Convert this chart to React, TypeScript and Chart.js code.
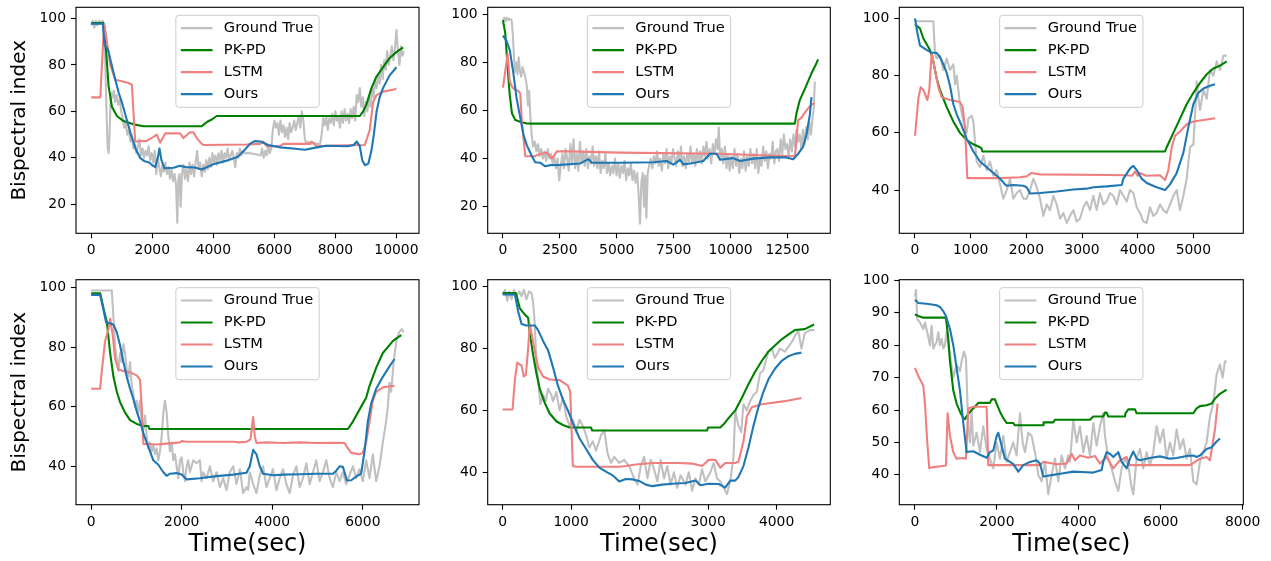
import React, { useEffect, useRef } from "react";
import { Chart, registerables } from "chart.js";
Chart.register(...registerables);

type Pt = [number, number];

const seriesNames = ["Ground True", "PK-PD", "LSTM", "Ours"];
const seriesColors = ["#c0c0c0", "#008000", "#f08080", "#1f77b4"];

// ---------- Panel 1 ----------
const p1Gt: Pt[] = [[0,97],[50,99],[100,96],[150,99],[200,97],[260,99],[320,98],[380,99],[420,95],[450,85],[480,70],[510,55],[540,44],[570,42],[600,50],[630,63],[660,68],[700,66],[740,69],[780,64],[830,67],[880,63],[930,65],[980,60],[1030,57],[1080,53],[1130,55],[1180,50],[1230,52],[1280,47],[1330,50],[1380,44],[1430,46],[1480,42],[1530,45],[1580,48],[1630,41],[1680,44],[1730,40],[1780,43],[1830,41],[1880,45],[1930,39],[1980,42],[2030,38],[2080,43],[2130,33],[2180,40],[2230,36],[2280,32],[2330,37],[2380,34],[2430,38],[2480,33],[2530,36],[2580,31],[2630,35],[2680,30],[2730,33],[2780,28],[2820,12],[2850,30],[2890,33],[2930,19],[2970,33],[3020,37],[3070,31],[3120,35],[3170,30],[3220,38],[3270,33],[3320,37],[3370,32],[3420,38],[3470,43],[3520,35],[3570,38],[3620,32],[3670,37],[3720,34],[3770,39],[3820,35],[3870,40],[3920,36],[3970,42],[4020,38],[4070,41],[4120,37],[4170,42],[4220,39],[4270,43],[4320,38],[4370,42],[4420,40],[4470,44],[4520,39],[4570,41],[4620,43],[4670,40],[4720,36],[4770,42],[4820,40],[4870,44],[4920,41],[4970,43],[5020,42],[5200,42],[5400,41.5],[5550,41],[5600,44],[5650,40],[5700,43],[5750,41],[5800,45],[5850,42],[5900,44],[5950,52],[6000,56],[6050,53],[6100,55],[6150,50],[6200,56],[6250,51],[6300,54],[6350,49],[6400,53],[6450,48],[6500,55],[6550,51],[6600,53],[6650,56],[6700,52],[6750,55],[6800,58],[6850,53],[6900,60],[6950,56],[7000,48],[7050,46],[7100,47],[7200,46],[7300,46.5],[7400,46],[7500,46],[7550,50],[7600,57],[7650,54],[7700,58],[7750,52],[7800,57],[7850,55],[7900,59],[7950,54],[8000,60],[8050,56],[8100,58],[8150,53],[8200,60],[8250,55],[8300,61],[8350,56],[8400,59],[8450,55],[8500,61],[8550,57],[8600,62],[8650,56],[8700,67],[8750,64],[8800,70],[8850,62],[8900,66],[8950,58],[9000,64],[9050,60],[9100,66],[9150,62],[9200,70],[9250,66],[9300,73],[9350,70],[9400,76],[9450,72],[9500,80],[9550,74],[9600,82],[9650,78],[9700,86],[9750,80],[9800,84],[9850,88],[9900,82],[9950,87],[10000,95],[10050,86],[10100,80],[10150,88],[10200,84],[10240,86]];
const p1Pk: Pt[] = [[0,98],[400,98],[430,92],[490,85.5],[567,71],[676,62],[840,58],[1058,55.8],[1385,54.4],[1712,53.6],[3620,53.6],[3700,54.5],[3800,55.5],[3950,56.5],[4111,58],[8800,58],[8909,60],[9018,63],[9182,70],[9346,75],[9564,79],[9782,83],[10000,85.5],[10218,87.5]];
const p1Lstm: Pt[] = [[0,66],[300,66],[330,75],[400,92],[436,97],[513,90],[622,80],[785,73.6],[1000,73],[1200,72.3],[1330,71.5],[1440,47],[1821,47.3],[2039,49],[2148,50],[2257,46.5],[2421,50.5],[2912,50.5],[3021,48.5],[3239,51],[3348,51],[3457,48.5],[3620,46],[3675,45.5],[5092,45.7],[5529,46],[5638,47],[5747,45],[6183,45],[6292,46],[7165,46],[7219,47],[7383,45],[7928,45.3],[8964,45.5],[9127,52],[9236,64],[9346,67],[9564,68.5],[10000,69.6]];
const p1Ours: Pt[] = [[0,97.7],[380,97.7],[430,89],[500,87.5],[560,86],[650,81],[780,74],[900,68],[1000,64],[1150,57],[1300,50],[1450,44],[1600,40],[1750,38.5],[1900,38],[2000,36.8],[2100,36],[2180,40],[2235,44],[2300,39],[2400,35.5],[2700,35.7],[2900,36.6],[3100,36],[3400,35.8],[3620,35],[4000,37.2],[4500,39],[4800,40.5],[5000,43],[5200,46],[5350,47.2],[5550,47],[5800,45.5],[6200,44.5],[6600,44],[7000,43.5],[7400,44.5],[7700,45.2],[8400,45],[8600,45.5],[8700,47],[8800,45],[8880,39],[8970,36.8],[9080,37.5],[9180,43],[9260,50],[9350,60],[9450,66],[9560,70],[9780,75.5],[10000,79]];
const p1XTicks = [0, 2000, 4000, 6000, 8000, 10000];
const p1YTicks = [20, 40, 60, 80, 100];

// ---------- Panel 2 ----------
const p2Gt: Pt[] = [[0,97],[60,98.5],[120,97],[180,98.5],[240,97.5],[300,98],[380,97.5],[430,92],[470,85],[520,76],[580,80],[640,75],[690,82],[740,77],[800,74],[860,78],[920,76],[980,74],[1050,70],[1100,62],[1150,68],[1200,58],[1260,50],[1330,45],[1400,47],[1470,43],[1540,46],[1610,41],[1680,44],[1750,40],[1820,43],[1900,39],[1970,44],[2040,40],[2110,42],[2180,38],[2250,41],[2330,36],[2400,40],[2470,31],[2540,37],[2610,42],[2680,36],[2750,44],[2820,40],[2890,35],[2960,46],[3030,38],[3100,48],[3170,36],[3240,42],[3310,35],[3380,47],[3450,38],[3520,43],[3590,37],[3660,44],[3730,36],[3800,41],[3870,38],[3940,45],[4010,37],[4080,41],[4150,36],[4220,43],[4290,34],[4360,39],[4430,36],[4500,42],[4570,34],[4640,38],[4710,33],[4780,37],[4850,34],[4920,40],[4990,33],[5060,38],[5130,32],[5200,37],[5270,34],[5340,39],[5410,31],[5480,36],[5550,33],[5620,38],[5690,31],[5760,35],[5830,30],[5900,34],[5960,25],[6020,13],[6080,30],[6140,34],[6200,20],[6250,33],[6300,15.5],[6360,34],[6420,37],[6490,40],[6560,36],[6630,41],[6700,38],[6770,43],[6840,37],[6910,40],[6980,35],[7050,42],[7120,38],[7190,44],[7260,36],[7330,41],[7400,38],[7470,44],[7540,40],[7610,37],[7680,43],[7750,39],[7820,45],[7890,37],[7960,41],[8030,36],[8100,42],[8170,39],[8240,45],[8310,38],[8380,42],[8450,37],[8520,44],[8590,39],[8660,43],[8730,38],[8800,45],[8870,41],[8940,47],[9010,40],[9080,44],[9150,38],[9220,46],[9290,42],[9360,48],[9430,44],[9480,53],[9540,40],[9610,44],[9680,38],[9750,45],[9820,36],[9890,42],[9960,35],[10030,41],[10100,36],[10170,44],[10240,37],[10310,42],[10380,34],[10450,40],[10520,36],[10590,43],[10660,35],[10730,41],[10800,37],[10870,44],[10940,38],[11010,42],[11080,36],[11150,44],[11220,34],[11290,40],[11360,37],[11430,45],[11500,39],[11570,43],[11640,36],[11710,42],[11780,40],[11850,47],[11920,38],[11990,43],[12060,44],[12130,39],[12200,48],[12270,42],[12340,50],[12410,44],[12480,46],[12550,41],[12620,48],[12690,43],[12760,50],[12830,45],[12900,52],[12970,47],[13040,50],[13110,44],[13180,52],[13250,46],[13320,53],[13390,48],[13460,55],[13530,50],[13600,57],[13650,60],[13700,72]];
const p2Pk: Pt[] = [[0,97.5],[102,92],[205,78],[292,67],[395,58.8],[541,56],[760,55.3],[1053,54.6],[1300,54.5],[12822,54.5],[12895,58.8],[13041,64.3],[13334,70.5],[13553,75.4],[13772,79.6],[13845,81.2]];
const p2Lstm: Pt[] = [[0,69.5],[205,83.5],[300,72],[395,70],[468,69],[687,68],[760,67],[833,55],[980,41],[1418,41],[1491,41.5],[1930,42.5],[2149,40],[2368,43],[2953,43],[5146,42.5],[9532,42],[10994,41.5],[12749,41],[12822,40.5],[12968,56],[13114,57],[13334,60],[13553,62.5],[13699,63]];
const p2Ours: Pt[] = [[0,91],[150,89],[300,85],[450,76],[600,65],[760,57],[900,50],[1050,45.5],[1272,41],[1418,38.5],[1637,38.3],[1857,36.8],[2076,37.3],[2515,37.4],[3392,38],[3757,39.8],[3904,38.3],[5146,38.3],[6608,38.5],[7193,39],[7485,37.5],[7778,39.5],[7924,37.6],[8363,38.2],[8801,39],[9094,42],[9386,42],[9532,39.5],[10117,40.2],[10409,39],[10994,40],[11725,40.5],[12456,40.5],[12749,39.7],[12968,42],[13187,45],[13333,50],[13480,58],[13553,65.5]];
const p2XTicks = [0, 2500, 5000, 7500, 10000, 12500];
const p2YTicks = [20, 40, 60, 80, 100];

// ---------- Panel 3 ----------
const p3Gt: Pt[] = [[0,99],[100,99],[200,99],[329,99],[359,88],[389,86],[449,87],[509,82],[569,86],[629,82],[689,84],[719,77],[749,80],[808,70],[868,64],[928,60],[958,65],[1018,66],[1048,64],[1108,50],[1168,48],[1228,52],[1287,47],[1347,50],[1407,45],[1467,47],[1527,42],[1587,37],[1647,40],[1707,44],[1766,37],[1826,39],[1886,40],[1946,37],[2006,37],[2066,40],[2126,44],[2186,41],[2246,37],[2305,31],[2365,35],[2425,33],[2485,38],[2545,35],[2605,30],[2665,32],[2725,28.5],[2785,31],[2844,33],[2904,29],[2964,30],[3024,34],[3084,36],[3144,33],[3204,38],[3263,33],[3323,39],[3383,35],[3443,36],[3503,39],[3563,38],[3623,35],[3683,40],[3743,38],[3802,36],[3862,40],[3922,39],[3982,34],[4042,32],[4102,29],[4162,28.5],[4222,34],[4281,31],[4341,32],[4401,35],[4461,33],[4521,32],[4581,35],[4641,38],[4701,40],[4760,33],[4820,38],[4880,44],[4940,55],[5000,56],[5030,66],[5060,78],[5090,72],[5120,68],[5180,75],[5240,72],[5299,82],[5359,80],[5419,85],[5479,82],[5539,87],[5599,87]];
const p3Pk: Pt[] = [[0,98],[90,96.5],[150,93],[210,91],[269,89],[329,85],[389,79],[449,75],[569,69],[689,64],[808,60],[928,57.5],[1048,56],[1168,55],[1198,54.5],[1210,53.5],[4491,53.5],[4521,55],[4641,60],[4760,65],[4880,70],[5000,74],[5120,77.5],[5240,80.5],[5359,82.5],[5479,83.5],[5599,85]];
const p3Lstm: Pt[] = [[0,59],[60,72],[102,76],[150,75],[222,71.5],[257,75],[299,88],[359,82],[419,76],[479,72.5],[629,71.5],[808,70.8],[856,69],[898,62],[940,44.2],[1527,44.2],[1886,44.5],[2006,44.8],[2096,46],[2246,45.5],[3443,45.3],[3802,45.2],[3900,45],[3950,46.5],[4000,45],[4042,46],[4150,45],[4401,45.2],[4491,43.5],[4551,47],[4611,55],[4671,59],[4760,60.5],[4880,63],[5000,64],[5359,65],[5389,65.2]];
const p3Ours: Pt[] = [[0,100],[42,95],[90,90.5],[210,89],[299,88],[389,88],[449,86.5],[509,84],[569,81],[629,76.5],[689,70],[749,66.5],[838,62.5],[928,58],[1048,53.5],[1168,50],[1287,48],[1407,46],[1527,44],[1617,42],[1647,41.5],[1766,41.8],[1946,41.5],[2006,41],[2066,38.8],[2246,39],[2545,39.5],[2844,40.2],[3084,40.5],[3204,41],[3443,41.3],[3713,41.8],[3743,44],[3862,47.5],[3922,48.5],[3982,47],[4072,44],[4162,42.5],[4341,41],[4491,40],[4581,42],[4701,46],[4820,53],[4910,62],[5000,70],[5090,74],[5180,75.5],[5299,76.5],[5389,77]];
const p3XTicks = [0, 1000, 2000, 3000, 4000, 5000];
const p3YTicks = [40, 60, 80, 100];

// ---------- Panel 4 ----------
const p4Gt: Pt[] = [[0,99],[150,99],[300,99],[455,99],[492,90],[529,80],[566,76],[602,72],[639,78],[676,75],[712,81],[749,78],[786,72],[823,70],[859,75],[896,67],[933,64],[969,60],[1006,62],[1043,58],[1080,62],[1116,55],[1153,52],[1190,57],[1226,50],[1263,46],[1300,48],[1337,45],[1373,47],[1410,44],[1447,46],[1483,42],[1520,45],[1557,50],[1594,58],[1630,62],[1667,58],[1704,50],[1740,45],[1777,48],[1814,42],[1851,44],[1887,40],[1924,36],[1961,42],[1998,43],[2034,38],[2071,35],[2108,40],[2144,42],[2181,38],[2255,42],[2328,41],[2401,42],[2438,35],[2475,38],[2548,36],[2622,40],[2695,35],[2769,38],[2842,33],[2916,36],[2989,32],[3062,38],[3136,40],[3209,34],[3283,39],[3356,31],[3430,33],[3466,32],[3503,38],[3577,34],[3650,31],[3723,37],[3797,40],[3870,33],[3944,36],[4017,39],[4091,32],[4164,36],[4238,39],[4311,34],[4384,31],[4458,37],[4531,40],[4605,33],[4678,36],[4752,41],[4825,34],[4898,38],[4972,42],[5045,35],[5119,38],[5192,42],[5266,36],[5339,33],[5413,38],[5486,35],[5559,38],[5633,34],[5706,37],[5780,40],[5853,36],[5926,39],[6000,35],[6073,42],[6147,36],[6220,44],[6294,35],[6367,40],[6441,48],[6514,55],[6551,60],[6588,68],[6625,65],[6680,75],[6740,82],[6800,85],[6860,86],[6900,85]];
const p4Pk: Pt[] = [[0,98],[200,98],[272,93],[345,88.5],[419,78],[492,70],[566,65],[639,61.5],[749,58],[859,55.5],[1006,54.2],[1153,53.5],[1263,53.5],[1285,52.5],[5670,52.5],[5780,55],[5926,59],[6073,63],[6147,67],[6294,73],[6441,78],[6551,80],[6661,82],[6750,83],[6850,84]];
const p4Lstm: Pt[] = [[0,66],[198,66],[235,72],[308,82],[382,86],[419,89.5],[477,84],[529,76],[602,72.5],[712,72],[859,71.5],[1006,70.5],[1080,69],[1116,60],[1153,47.5],[1447,47.3],[1667,47.6],[1961,48],[1998,48.5],[2108,48.2],[3136,48.2],[3283,48],[3430,48.2],[3518,49],[3577,56.5],[3613,50],[3650,47.8],[3870,48],[4238,47.8],[4605,48],[4972,47.8],[5339,47.9],[5596,47.8],[5670,46],[5743,44.5],[5926,44],[6000,44.5],[6073,48],[6147,55],[6220,62],[6294,65],[6441,66.5],[6700,67]];
const p4Ours: Pt[] = [[0,97.5],[198,97.5],[272,92.5],[330,88.2],[419,88],[492,87.5],[566,85],[639,80.5],[712,75],[786,70],[859,66],[933,62.5],[1006,58.5],[1080,55],[1153,51],[1226,48],[1300,45],[1373,42],[1483,40.5],[1594,38],[1667,36.8],[1740,37.5],[1887,37.7],[1998,37.2],[2108,35.6],[2401,36],[2769,36.7],[3136,37.2],[3430,37.8],[3503,40],[3577,45.5],[3650,44],[3723,40],[3797,37.5],[4017,37],[4238,37.2],[4605,37.3],[4972,37.5],[5339,37.5],[5413,38.5],[5486,40],[5559,39.8],[5596,38],[5648,35.2],[5743,35.3],[5853,36.5],[5963,37.5],[6037,45],[6110,55],[6184,61],[6294,66],[6441,70],[6588,73.5],[6700,76]];
const p4XTicks = [0, 2000, 4000, 6000];
const p4YTicks = [40, 60, 80, 100];

// ---------- Panel 5 ----------
const p5Gt: Pt[] = [[0,97.5],[34,99],[68,95.5],[97,98.5],[131,96],[164,99],[203,97],[242,98.5],[276,97],[310,99],[348,96],[387,98.5],[421,98],[445,95],[469,88],[493,75],[518,70],[551,62],[590,65],[629,63],[663,67],[711,65],[735,63],[784,66],[832,60],[880,64],[929,58],[977,55],[1025,57],[1074,53],[1122,57],[1171,55],[1219,52],[1267,48],[1316,50],[1364,47],[1437,52],[1485,53.5],[1533,46],[1582,43],[1630,45],[1703,43],[1775,44],[1848,42],[1920,38],[1969,36],[2017,42],[2065,45],[2114,38],[2162,44],[2211,41],[2259,37],[2307,44],[2356,38],[2404,42],[2452,36],[2501,40],[2549,35],[2597,39],[2670,36],[2718,40],[2767,34],[2815,38],[2863,36],[2912,41],[2960,37],[3033,40],[3081,43],[3130,38],[3178,37],[3226,35],[3275,33],[3323,37],[3371,45],[3396,60],[3444,55],[3483,53],[3516,62],[3565,60],[3613,63],[3662,65],[3710,66],[3758,72],[3807,73],[3879,79],[3928,80],[3976,77],[4049,80],[4121,79],[4218,82],[4315,86],[4363,80],[4411,85],[4484,86],[4556,86]];
const p5Pk: Pt[] = [[0,98],[193,98],[252,93],[324,91],[372,90],[397,85],[445,78],[493,72],[542,67],[614,62.5],[687,59],[784,56.5],[880,55.3],[977,54.5],[1291,54.5],[1306,53.5],[2984,53.5],[3000,54.5],[3178,54.5],[3226,55.5],[3299,57.5],[3396,60],[3492,64],[3589,68.5],[3686,72.5],[3783,76],[3879,79],[3976,81],[4073,83],[4170,84.5],[4266,86],[4411,86.3],[4547,87.8]];
const p5Lstm: Pt[] = [[0,60.3],[145,60.3],[179,70],[213,75.5],[276,74.5],[310,71],[339,71.5],[372,80],[397,88],[445,82],[518,74],[590,71],[687,70],[832,69.8],[953,68],[987,66],[1025,42],[1074,41.8],[1703,41.8],[1799,42],[1945,42.5],[2186,43],[2573,43],[2767,42.8],[2912,42],[3009,44],[3105,44],[3178,41.5],[3250,43],[3396,43],[3444,43.5],[3516,50],[3565,58],[3637,61],[3783,62],[4121,63],[4363,64]];
const p5Ours: Pt[] = [[0,97.5],[179,97.5],[227,92],[276,88],[348,87.5],[469,87.5],[518,86],[590,82.5],[663,79.5],[735,74],[808,68],[880,63.5],[953,60],[1025,56],[1122,51],[1219,47.5],[1316,44],[1412,41.5],[1509,40.2],[1606,39],[1703,37],[1799,37.8],[1896,37.7],[1993,37.2],[2090,36],[2186,35.5],[2331,36],[2477,36.3],[2670,36.5],[2815,37.3],[2888,35.8],[3009,36.3],[3154,36.2],[3250,35],[3323,37.3],[3396,37.3],[3444,38.5],[3516,42],[3589,48],[3662,55],[3734,61],[3807,66],[3879,70],[3976,73.5],[4073,76],[4170,77.5],[4266,78.3],[4363,78.7]];
const p5XTicks = [0, 1000, 2000, 3000, 4000];
const p5YTicks = [40, 60, 80, 100];

// ---------- Panel 6 ----------
const p6Gt: Pt[] = [[0,95],[24,97],[57,88],[122,87],[203,85],[244,87],[301,84],[366,80],[407,86],[448,79],[529,81],[570,84],[610,80],[651,82],[692,79],[732,80],[773,84],[814,80],[855,77],[936,70],[1017,74],[1099,72],[1139,75],[1196,78],[1245,76],[1302,55],[1343,50],[1383,60],[1424,49],[1505,53],[1587,47],[1668,55],[1750,48],[1831,45],[1912,42],[1994,50],[2075,45],[2157,52],[2238,44],[2319,47],[2401,50],[2482,46],[2563,59],[2629,50],[2686,47],[2767,53],[2848,52],[2930,47],[3011,40],[3092,38],[3174,44],[3255,34],[3337,40],[3418,45],[3499,38],[3581,46],[3662,42],[3743,46],[3784,44],[3866,57],[3947,50],[4028,55],[4110,47],[4191,52],[4272,46],[4354,56],[4435,49],[4517,55],[4598,59],[4639,52],[4720,45],[4801,42],[4883,38],[4964,35],[5046,42],[5127,45],[5208,43],[5290,36],[5330,34],[5412,45],[5493,48],[5574,42],[5656,47],[5737,43],[5819,47],[5900,55],[5981,50],[6063,54],[6144,45],[6225,50],[6307,46],[6388,54],[6470,48],[6551,51],[6632,45],[6714,48],[6795,38],[6877,37],[6958,44],[7039,47],[7121,50],[7202,58],[7283,62],[7365,71],[7446,74],[7511,70],[7568,75],[7609,75]];
const p6Pk: Pt[] = [[0,89.5],[81,89],[203,88.5],[757,88.5],[814,82],[855,75],[936,66],[1017,62],[1099,59.5],[1180,57.5],[1221,57.2],[1302,58.8],[1383,60],[1465,61],[1546,62.2],[1831,62.2],[1872,63.3],[1953,63.3],[1994,62],[2075,59.5],[2157,57.5],[2238,56],[2401,56],[2441,55.3],[3133,55.3],[3140,56.2],[3377,56.2],[3418,57],[4272,57],[4354,58],[4598,58],[4639,59.2],[4679,59.2],[4720,58],[5127,58],[5140,59],[5208,60.2],[5371,60.2],[5412,59],[6795,59],[6877,60.5],[6958,61.2],[7121,61.5],[7243,62],[7324,63.5],[7446,65],[7609,66.3]];
const p6Lstm: Pt[] = [[0,73],[81,70.5],[163,68.5],[203,67.5],[244,62],[301,50],[350,42],[400,42.3],[732,42.8],[757,43],[798,59],[855,52],[936,47],[1017,45],[1180,45.2],[1245,45],[1302,60.5],[1424,61],[1750,61],[1790,43],[3052,43],[3133,44],[3459,43.3],[3703,43.5],[3825,46.5],[3906,44.5],[4028,46],[4232,45.3],[4395,45.8],[4517,43.5],[4679,45.5],[4842,42],[5005,44.5],[5168,45.5],[5249,43],[6714,43],[6958,45],[7121,45.5],[7202,44.5],[7324,54],[7389,62]];
const p6Ours: Pt[] = [[0,94],[81,93],[285,92.8],[529,92.3],[610,91.8],[692,90.5],[757,89],[855,85],[936,80],[1017,73],[1099,66],[1180,56],[1261,47],[1343,47.2],[1424,47.3],[1587,46.2],[1750,45.3],[1831,47],[1912,47.5],[1994,52],[2035,53],[2116,49],[2197,45],[2319,44],[2401,43.3],[2523,41],[2645,43],[2808,44],[2970,44.5],[3052,43.5],[3133,39.5],[3377,40],[3621,40.5],[3866,41],[4191,40.8],[4354,40.7],[4557,41.5],[4598,44],[4679,47],[4761,46.5],[4842,45.5],[4964,47],[5046,44],[5168,42],[5249,45],[5330,47.2],[5412,45],[5493,44.5],[5737,45.2],[5981,45.7],[6225,45],[6388,45.2],[6632,45.8],[6795,46],[6877,45.5],[6958,46],[7121,48],[7243,48.5],[7365,50.3],[7446,51.2]];
const p6XTicks = [0, 2000, 4000, 6000, 8000];
const p6YTicks = [40, 50, 60, 70, 80, 90, 100];

// ---------- layout ----------
const colCanvas = [
  { left: 0, width: 430 },
  { left: 430, width: 420 },
  { left: 850, width: 421 },
];
const rowCanvas = [
  { top: -20, height: 280 },
  { top: 260, height: 301 },
];
const colPlot = [[76, 419], [487.7, 830.3], [899.3, 1243.3]];
const rowPlot = [[7.3, 233.3], [279.7, 504.7]];

interface PanelDef {
  series: Pt[][];
  xTicks: number[];
  yTicks: number[];
  xMin: number; xMax: number; yMin: number; yMax: number;
  col: number; row: number;
}

const panels: PanelDef[] = [
  { series: [p1Gt, p1Pk, p1Lstm, p1Ours], xTicks: p1XTicks, yTicks: p1YTicks, xMin: -500, xMax: 10740, yMin: 7.5, yMax: 104.8, col: 0, row: 0 },
  { series: [p2Gt, p2Pk, p2Lstm, p2Ours], xTicks: p2XTicks, yTicks: p2YTicks, xMin: -670, xMax: 14380, yMin: 9, yMax: 102.8, col: 1, row: 0 },
  { series: [p3Gt, p3Pk, p3Lstm, p3Ours], xTicks: p3XTicks, yTicks: p3YTicks, xMin: -282, xMax: 5897, yMin: 24.9, yMax: 103.9, col: 2, row: 0 },
  { series: [p4Gt, p4Pk, p4Lstm, p4Ours], xTicks: p4XTicks, yTicks: p4YTicks, xMin: -335, xMax: 7240, yMin: 27.1, yMax: 102.6, col: 0, row: 1 },
  { series: [p5Gt, p5Pk, p5Lstm, p5Ours], xTicks: p5XTicks, yTicks: p5YTicks, xMin: -218, xMax: 4784, yMin: 29.5, yMax: 102.3, col: 1, row: 1 },
  { series: [p6Gt, p6Pk, p6Lstm, p6Ours], xTicks: p6XTicks, yTicks: p6YTicks, xMin: -382, xMax: 8016, yMin: 30.8, yMax: 100.2, col: 2, row: 1 },
];

const FONT = "DejaVu Sans";
const LW = 2.1;

const frameLegendPlugin = {
  id: "frameLegend",
  afterDatasetsDraw(chart: any) {
    const { ctx, chartArea: a } = chart;
    ctx.save();
    ctx.strokeStyle = "#000";
    ctx.lineWidth = 1.1;
    ctx.strokeRect(a.left, a.top, a.right - a.left, a.bottom - a.top);

    ctx.font = `14.6px "${FONT}"`;
    let tw = 0;
    for (const n of seriesNames) tw = Math.max(tw, ctx.measureText(n).width);
    const w = 48 + tw + 6;
    const h = 92;
    const x0 = (a.left + a.right) / 2 - w / 2;
    const y0 = a.top + 8;
    const r = 3;
    ctx.beginPath();
    ctx.moveTo(x0 + r, y0);
    ctx.arcTo(x0 + w, y0, x0 + w, y0 + h, r);
    ctx.arcTo(x0 + w, y0 + h, x0, y0 + h, r);
    ctx.arcTo(x0, y0 + h, x0, y0, r);
    ctx.arcTo(x0, y0, x0 + w, y0, r);
    ctx.closePath();
    ctx.fillStyle = "rgba(255,255,255,0.8)";
    ctx.fill();
    ctx.strokeStyle = "#cccccc";
    ctx.lineWidth = 1;
    ctx.stroke();

    seriesNames.forEach((n, i) => {
      const y = y0 + 12.8 + i * 22;
      ctx.beginPath();
      ctx.moveTo(x0 + 5, y);
      ctx.lineTo(x0 + 36.7, y);
      ctx.strokeStyle = seriesColors[i];
      ctx.lineWidth = LW;
      ctx.stroke();
      ctx.fillStyle = "#000";
      ctx.textBaseline = "middle";
      ctx.textAlign = "left";
      ctx.fillText(n, x0 + 48, y);
    });
    ctx.restore();
  },
};

function PanelChart({ p }: { p: PanelDef }) {
  const ref = useRef<HTMLCanvasElement | null>(null);
  const cc = colCanvas[p.col];
  const rc = rowCanvas[p.row];
  const [pl, pr] = colPlot[p.col];
  const [ptop, pb] = rowPlot[p.row];

  useEffect(() => {
    if (!ref.current) return;
    const tickFont = { family: FONT, size: 13.9 };
    const chart = new Chart(ref.current, {
      type: "line",
      data: {
        datasets: p.series.map((s, i) => ({
          label: seriesNames[i],
          data: s.map(([x, y]) => ({ x, y })),
          borderColor: seriesColors[i],
          backgroundColor: seriesColors[i],
          borderWidth: LW,
          pointRadius: 0,
          tension: 0,
          fill: false,
          order: 4 - i,
          borderJoinStyle: "round" as const,
        })),
      },
      options: {
        responsive: false,
        animation: false,
        devicePixelRatio: 1,
        events: [],
        layout: {
          padding: {
            left: 0,
            top: ptop - rc.top,
            right: cc.left + cc.width - pr,
            bottom: 0,
          },
        },
        plugins: {
          legend: { display: false },
          tooltip: { enabled: false },
        },
        scales: {
          x: {
            type: "linear",
            min: p.xMin,
            max: p.xMax,
            bounds: "data",
            afterBuildTicks: (s: any) => {
              s.ticks = p.xTicks.map((v) => ({ value: v }));
            },
            afterFit: (s: any) => {
              s.height = rc.top + rc.height - pb;
            },
            grid: {
              display: true,
              drawOnChartArea: false,
              drawTicks: true,
              tickLength: 5,
              tickColor: "#000",
              tickWidth: 1.1,
              color: "#000",
            },
            border: { display: false },
            ticks: {
              color: "#000",
              font: tickFont,
              padding: 4,
              autoSkip: false,
              maxRotation: 0,
              callback: (v: any) => String(v),
            },
            title: {
              display: p.row === 1,
              text: "Time(sec)",
              color: "#000",
              font: { family: FONT, size: 24, lineHeight: 1 },
              padding: { top: 0, bottom: 4 },
            },
          },
          y: {
            type: "linear",
            min: p.yMin,
            max: p.yMax,
            bounds: "data",
            afterBuildTicks: (s: any) => {
              s.ticks = p.yTicks.map((v) => ({ value: v }));
            },
            afterFit: (s: any) => {
              s.width = pl - cc.left;
            },
            grid: {
              display: true,
              drawOnChartArea: false,
              drawTicks: true,
              tickLength: 5,
              tickColor: "#000",
              tickWidth: 1.1,
              color: "#000",
            },
            border: { display: false },
            ticks: {
              color: "#000",
              font: tickFont,
              padding: 5,
              autoSkip: false,
              callback: (v: any) => String(v),
            },
            title: {
              display: p.col === 0,
              text: "Bispectral index",
              color: "#000",
              font: { family: FONT, size: 20, lineHeight: 1 },
              padding: { top: 9.8, bottom: 0 },
            },
          },
        },
      } as any,
      plugins: [frameLegendPlugin],
    });
    return () => chart.destroy();
  }, []);

  return (
    <canvas
      ref={ref}
      width={cc.width}
      height={rc.height}
      style={{
        position: "absolute",
        left: cc.left,
        top: rc.top,
        width: cc.width,
        height: rc.height,
      }}
    />
  );
}

export default function App() {
  return (
    <div
      style={{
        position: "absolute",
        left: 0,
        top: 0,
        width: 1271,
        height: 561,
        background: "#fff",
        overflow: "hidden",
      }}
    >
      {panels.map((p, i) => (
        <PanelChart key={i} p={p} />
      ))}
    </div>
  );
}
